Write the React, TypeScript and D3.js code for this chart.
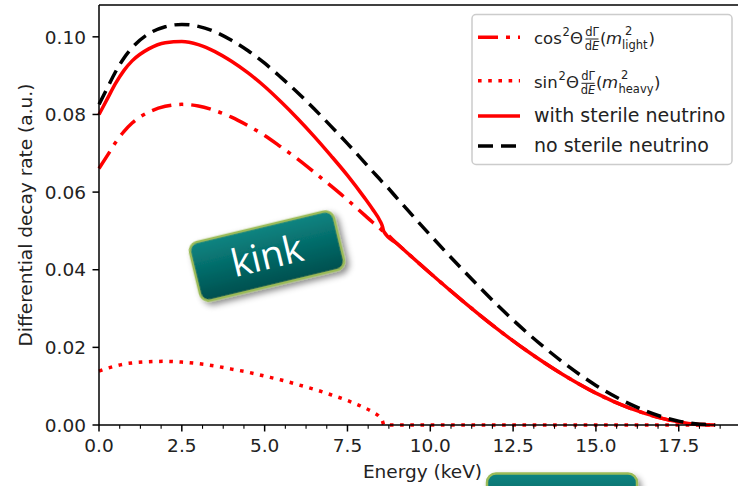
import React from 'react';
import * as d3 from 'd3';

// Energy grid (keV) and curve values
const energy = [0, 0.25, 0.5, 0.75, 1, 1.5, 2, 2.5, 3, 3.5, 4, 4.5, 5, 5.5, 6, 6.5, 7, 7.5, 8, 8.25, 8.5, 8.55, 8.6, 9, 10, 11, 12, 13, 14, 15, 16, 17, 17.5, 18, 18.3, 18.6];
const noSterile = [0.0826, 0.0868, 0.0910, 0.0945, 0.0972, 0.1008, 0.1026, 0.1032, 0.1027, 0.1013, 0.0991, 0.0964, 0.0932, 0.0895, 0.0856, 0.0814, 0.0770, 0.0725, 0.0678, 0.0654, 0.0631, 0.0626, 0.0622, 0.0584, 0.0489, 0.0398, 0.0311, 0.0232, 0.0162, 0.0102, 0.0055, 0.0021, 0.0010, 0.0003, 0.0001, 0];
const cosLight = [0.0661, 0.0694, 0.0728, 0.0756, 0.0778, 0.0806, 0.0821, 0.0826, 0.0822, 0.0810, 0.0793, 0.0771, 0.0746, 0.0716, 0.0685, 0.0651, 0.0616, 0.0580, 0.0542, 0.0523, 0.0505, 0.0501, 0.0498, 0.0467, 0.0391, 0.0318, 0.0249, 0.0186, 0.0130, 0.0082, 0.0044, 0.0017, 0.0008, 0.0002, 0.0001, 0];
const sinHeavy = [0.0139, 0.0146, 0.0152, 0.0157, 0.0160, 0.0163, 0.0164, 0.0162, 0.0158, 0.0152, 0.0144, 0.0136, 0.0126, 0.0116, 0.0104, 0.0092, 0.0078, 0.0063, 0.0045, 0.0034, 0.0018, 0.0012, 0, 0, 0, 0, 0, 0, 0, 0, 0, 0, 0, 0, 0, 0];
const withSterile = [0.0800, 0.0840, 0.0880, 0.0913, 0.0938, 0.0969, 0.0985, 0.0988, 0.0980, 0.0962, 0.0937, 0.0907, 0.0872, 0.0832, 0.0789, 0.0743, 0.0694, 0.0643, 0.0587, 0.0557, 0.0523, 0.0513, 0.0498, 0.0467, 0.0391, 0.0318, 0.0249, 0.0186, 0.0130, 0.0082, 0.0044, 0.0017, 0.0008, 0.0002, 0.0001, 0];

const xMajorTicks = [0, 2.5, 5, 7.5, 10, 12.5, 15, 17.5];
const yTicks = [0, 0.02, 0.04, 0.06, 0.08, 0.1];
const xLabel = 'Energy (keV)';
const yLabel = 'Differential decay rate (a.u.)';
const legendPlain = ['with sterile neutrino', 'no sterile neutrino'];

const W = 738;
const H = 486;
const PL = 99, PR = 746, PT = 5, PB = 425;
const FONT = 'DejaVu Sans';
const TXT = '#222';
const RED = '#ff0000';
const LW = 3.5;
const DASHDOT = '20 8 4 8';
const DOTTED = '3.6 6.6';
const DASHED = '15 8';

export default function App() {
  const x = d3.scaleLinear().domain([0, 19.53]).range([PL, PR]);
  const y = d3.scaleLinear().domain([0, 0.1082]).range([PB, PT]);
  const path = (vals: number[]) =>
    d3.line<number>()
      .x((_, i) => x(energy[i]))
      .y((v) => y(v))
      .curve(d3.curveMonotoneX)(vals) || '';
  const minorTicks = d3.range(0, 19.53, 0.625).filter((t) => Math.abs(t / 2.5 - Math.round(t / 2.5)) > 1e-6);
  const fmtX = d3.format('.1f');
  const fmtY = d3.format('.2f');
  const ms = 16.5; // math font size
  const ss = 11.5; // script font size

  return (
    <svg width={W} height={H} style={{ position: 'absolute', left: 0, top: 0, background: '#fff' }} fontFamily={FONT}>
      <defs>
        <linearGradient id="teal" x1="0" y1="0" x2="0" y2="1">
          <stop offset="0" stopColor="#0a8582" />
          <stop offset="1" stopColor="#004f4e" />
        </linearGradient>
        <filter id="shadow" x="-20%" y="-20%" width="140%" height="150%">
          <feDropShadow dx="3" dy="4" stdDeviation="3" floodColor="#000" floodOpacity="0.45" />
        </filter>
      </defs>
      <rect x={0} y={0} width={W} height={H} fill="#fff" />

      {/* curves */}
      <path d={path(cosLight)} fill="none" stroke={RED} strokeWidth={LW} strokeDasharray={DASHDOT} />
      <path d={path(sinHeavy)} fill="none" stroke={RED} strokeWidth={LW} strokeDasharray={DOTTED} />
      <path d={path(withSterile)} fill="none" stroke={RED} strokeWidth={LW} strokeLinejoin="round" />
      <path d={path(noSterile)} fill="none" stroke="#000" strokeWidth={LW} strokeDasharray={DASHED} />

      {/* spines */}
      <line x1={PL} x2={PL} y1={PT} y2={PB} stroke="#000" strokeWidth={1.5} />
      <line x1={PL} x2={PR} y1={PT} y2={PT} stroke="#000" strokeWidth={1.5} />
      <line x1={PL} x2={PR} y1={PB} y2={PB} stroke="#000" strokeWidth={1.5} />

      {/* x ticks */}
      {xMajorTicks.map((t) => (
        <g key={'xt' + t}>
          <line x1={x(t)} x2={x(t)} y1={PB} y2={PB + 6.5} stroke="#000" strokeWidth={1.5} />
          <text x={x(t)} y={PB + 26.5} textAnchor="middle" fontSize={18.5} fill={TXT}>{fmtX(t)}</text>
        </g>
      ))}
      {minorTicks.map((t) => (
        <line key={'xm' + t} x1={x(t)} x2={x(t)} y1={PB} y2={PB + 3.8} stroke="#000" strokeWidth={1.1} />
      ))}
      {/* y ticks */}
      {yTicks.map((t) => (
        <g key={'yt' + t}>
          <line x1={PL - 6.5} x2={PL} y1={y(t)} y2={y(t)} stroke="#000" strokeWidth={1.5} />
          <text x={PL - 13} y={y(t) + 6.7} textAnchor="end" fontSize={18.5} fill={TXT}>{fmtY(t)}</text>
        </g>
      ))}

      <text x={(PL + PR) / 2} y={478} textAnchor="middle" fontSize={18.5} fill={TXT}>{xLabel}</text>
      <text transform={`translate(31.5,${(PT + PB) / 2}) rotate(-90)`} textAnchor="middle" fontSize={18.5} fill={TXT}>{yLabel}</text>

      {/* legend */}
      <rect x={472} y={14.5} width={260} height={150} rx={4} fill="#fff" fillOpacity={0.8} stroke="#cccccc" strokeWidth={1.5} />
      <line x1={478} x2={520} y1={37.3} y2={37.3} stroke={RED} strokeWidth={LW} strokeDasharray={DASHDOT} />
      <line x1={478} x2={520} y1={80.7} y2={80.7} stroke={RED} strokeWidth={LW} strokeDasharray={DOTTED} />
      <line x1={478} x2={520} y1={116} y2={116} stroke={RED} strokeWidth={LW} />
      <line x1={478} x2={520} y1={146} y2={146} stroke="#000" strokeWidth={LW} strokeDasharray={DASHED} />

      <g fill={TXT}>
        {/* cos^2 Theta dGamma/dE (m^2_light) */}
        <text x={534} y={44} fontSize={ms}>cos</text>
        <text x={562.5} y={35.5} fontSize={ss}>2</text>
        <text x={570} y={44} fontSize={ms}>Θ</text>
        <text x={592} y={35.5} fontSize={ss} textAnchor="middle">dΓ</text>
        <line x1={585.5} x2={598.5} y1={39} y2={39} stroke={TXT} strokeWidth={1} />
        <text x={592} y={50} fontSize={ss} textAnchor="middle">d<tspan fontStyle="italic">E</tspan></text>
        <text x={600} y={44} fontSize={ms}>(</text>
        <text x={606} y={44} fontSize={ms} fontStyle="italic">m</text>
        <text x={625} y={34.5} fontSize={ss}>2</text>
        <text x={622} y={48.5} fontSize={ss}>light</text>
        <text x={648.5} y={44} fontSize={ms}>)</text>

        {/* sin^2 Theta dGamma/dE (m^2_heavy) */}
        <text x={534} y={88.3} fontSize={ms}>sin</text>
        <text x={558.5} y={79.8} fontSize={ss}>2</text>
        <text x={566} y={88.3} fontSize={ms}>Θ</text>
        <text x={588} y={79.8} fontSize={ss} textAnchor="middle">dΓ</text>
        <line x1={581.5} x2={594.5} y1={83.3} y2={83.3} stroke={TXT} strokeWidth={1} />
        <text x={588} y={94.3} fontSize={ss} textAnchor="middle">d<tspan fontStyle="italic">E</tspan></text>
        <text x={596} y={88.3} fontSize={ms}>(</text>
        <text x={602} y={88.3} fontSize={ms} fontStyle="italic">m</text>
        <text x={621} y={78.8} fontSize={ss}>2</text>
        <text x={618.5} y={92.8} fontSize={ss}>heavy</text>
        <text x={654} y={88.3} fontSize={ms}>)</text>

        <text x={534} y={121.7} fontSize={19}>{legendPlain[0]}</text>
        <text x={534} y={151.7} fontSize={19}>{legendPlain[1]}</text>
      </g>

      {/* annotation boxes */}
      <g transform="translate(267,256) rotate(-13.5)" filter="url(#shadow)">
        <rect x={-74} y={-30} width={148} height={60} rx={9} fill="url(#teal)" stroke="#9bbb59" strokeWidth={2.5} />
      </g>
      <g transform="translate(267,256) rotate(-13.5)">
        <text x={0} y={13} textAnchor="middle" fontFamily="Open Sans" fontSize={38} fill="#fff">kink</text>
      </g>
      <g filter="url(#shadow)">
        <rect x={487} y={473.5} width={150} height={50} rx={9} fill="url(#teal)" stroke="#9bbb59" strokeWidth={2.5} />
      </g>
    </svg>
  );
}
